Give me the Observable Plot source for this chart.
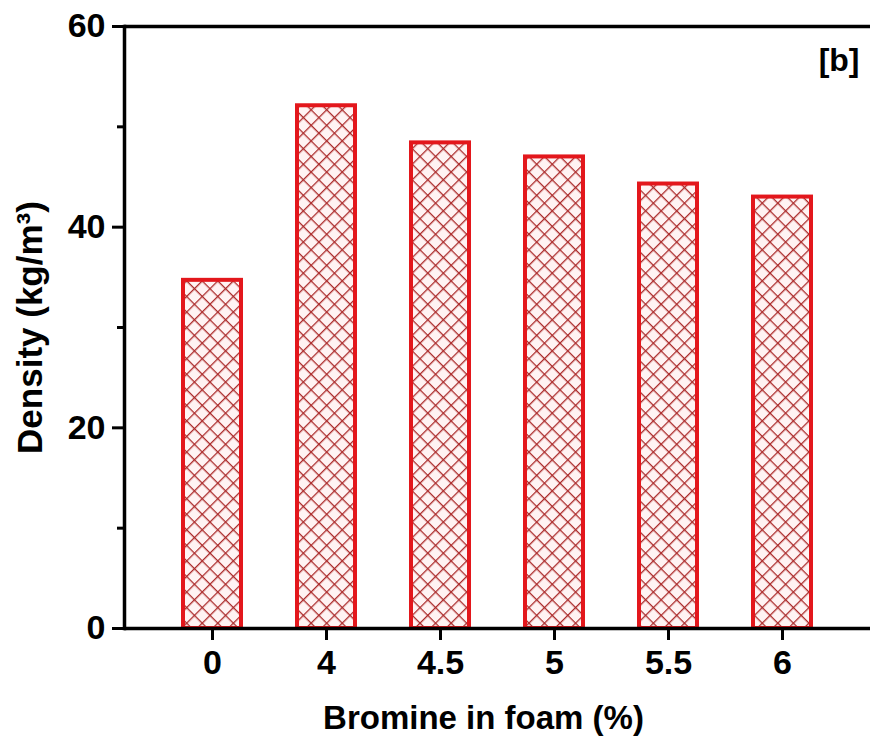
<!DOCTYPE html>
<html>
<head>
<meta charset="utf-8">
<script src="https://cdn.jsdelivr.net/npm/d3@7"></script>
<script src="https://cdn.jsdelivr.net/npm/@observablehq/plot@0.6"></script>
<style>
  html, body { margin: 0; padding: 0; background: #fff; }
  svg { font-family: "Liberation Sans", Arial, sans-serif; }
</style>
</head>
<body>
<div id="chart"></div>
<script>
const categories = ["0", "4", "4.5", "5", "5.5", "6"];
const densities = [34.7, 52.1, 48.4, 47.0, 44.3, 43.0];
const yTicks = [0, 20, 40, 60];
const yMinorTicks = [10, 30, 50];
const xLabel = "Bromine in foam (%)";
const yLabel = "Density (kg/m³)";
const panelTag = "[b]";

const data = categories.map((c, i) => ({cat: c, val: densities[i]}));

const font = {fontWeight: "bold", fill: "#000"};

const chart = Plot.plot({
  width: 873,
  height: 742,
  marginLeft: 124,
  marginRight: 3,
  marginTop: 26,
  marginBottom: 114,
  style: {fontFamily: "'Liberation Sans', Arial, sans-serif", background: "#fff", color: "#000"},
  x: {type: "band", domain: categories, padding: 0.487, label: null},
  y: {domain: [0, 60], label: null},
  marks: [
    Plot.barY(data, {x: "cat", y: "val", fill: "url(#hatch)", stroke: "#e3171c", strokeWidth: 4, inset: 0}),
    Plot.axisY(yTicks, {tickSize: 12, strokeWidth: 3, tickPadding: 7, fontSize: 34, ...font, label: null}),
    Plot.axisY(yMinorTicks, {tickSize: 7, strokeWidth: 3, text: null, label: null}),
    Plot.axisX({tickSize: 12, strokeWidth: 3, tickPadding: 9, fontSize: 34, ...font, label: null}),
    Plot.ruleY([0, 60], {stroke: "#000", strokeWidth: 3.5}),
    Plot.frame({anchor: "left", stroke: "#000", strokeWidth: 3.5}),
    Plot.text([yLabel], {frameAnchor: "left", dx: -94, rotate: -90, textAnchor: "middle", lineAnchor: "middle", fontSize: 35, ...font}),
    Plot.text([xLabel], {frameAnchor: "bottom", dx: -14, dy: 90, textAnchor: "middle", lineAnchor: "middle", fontSize: 33, ...font}),
    Plot.text([panelTag], {frameAnchor: "top-right", dx: -11, dy: 34, textAnchor: "end", lineAnchor: "middle", fontSize: 32, ...font})
  ]
});

// hatch pattern definition
const ns = "http://www.w3.org/2000/svg";
const defs = document.createElementNS(ns, "defs");
defs.innerHTML = `
  <pattern id="hatch" patternUnits="userSpaceOnUse" width="11" height="11" patternTransform="rotate(45)">
    <rect width="11" height="11" fill="#fff3f3"></rect>
    <line x1="0" y1="0" x2="11" y2="0" stroke="#ab2a2a" stroke-width="2.6"></line>
    <line x1="0" y1="0" x2="0" y2="11" stroke="#ab2a2a" stroke-width="2.6"></line>
  </pattern>`;
chart.insertBefore(defs, chart.firstChild);

document.getElementById("chart").appendChild(chart);
</script>
</body>
</html>
